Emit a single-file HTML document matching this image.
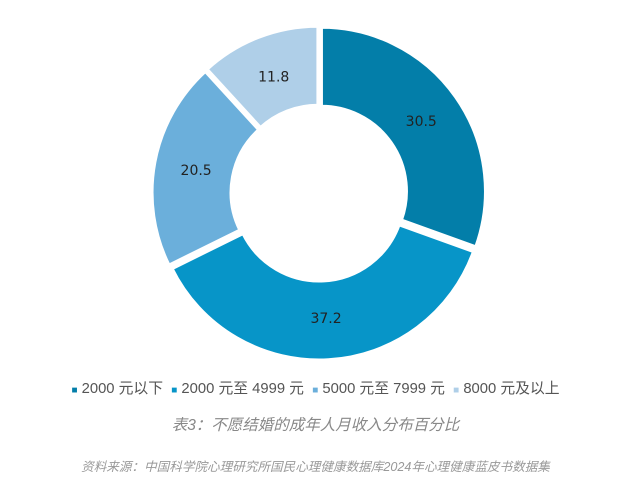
<!DOCTYPE html>
<html><head><meta charset="utf-8"><style>
body{margin:0;background:#fff;width:631px;height:497px;overflow:hidden;font-family:"Liberation Sans","Noto Sans CJK SC",sans-serif}
.t{position:absolute;left:0;width:631px;text-align:center;white-space:nowrap}
</style></head><body>
<svg id="s" width="631" height="370" style="position:absolute;left:0;top:0"></svg>
<div class="t" style="top:377px;font-size:14.8px;color:#555;">
<span style="color:#037ea9;font-size:10px">■</span> 2000 元以下&nbsp;&nbsp;<span style="color:#0795c8;font-size:10px">■</span> 2000 元至 4999 元&nbsp;&nbsp;<span style="color:#6bafdb;font-size:10px">■</span> 5000 元至 7999 元&nbsp;&nbsp;<span style="color:#afcfe8;font-size:10px">■</span> 8000 元及以上</div>
<div class="t" style="top:413px;font-size:15.5px;color:#888;font-style:italic;">表3：不愿结婚的成年人月收入分布百分比</div>
<div class="t" style="top:456px;font-size:12.6px;color:#999;font-style:italic;">资料来源：中国科学院心理研究所国民心理健康数据库2024年心理健康蓝皮书数据集</div>
<script>
var s=document.getElementById('s'),cx=319,cy=193,R=164,r=85;
var d=[[30.5,'#037ea9'],[37.2,'#0795c8'],[20.5,'#6bafdb'],[11.8,'#afcfe8']];
var a=0,h='';
function p(rad,ang,ox,oy){var t=(ang-90)*Math.PI/180;return (cx+ox+rad*Math.cos(t)).toFixed(2)+','+(cy+oy+rad*Math.sin(t)).toFixed(2);}
d.forEach(function(e){var sw=e[0]*3.6,m=a+sw/2,t=(m-90)*Math.PI/180,ox=3*Math.cos(t),oy=3*Math.sin(t),l=sw>180?1:0;
h+='<path d="M'+p(R,a,ox,oy)+' A'+R+','+R+' 0 '+l+' 1 '+p(R,a+sw,ox,oy)+' L'+p(r,a+sw,ox,oy)+' A'+r+','+r+' 0 '+l+' 0 '+p(r,a,ox,oy)+' Z" fill="'+e[1]+'" stroke="#fff" stroke-width="3"/>';
h+='<text x="'+(cx+125*Math.cos(t))+'" y="'+(cy+125*Math.sin(t)+5)+'" text-anchor="middle" font-size="14" fill="#222" font-family="DejaVu Sans,sans-serif">'+e[0]+'</text>';
a+=sw;});
s.innerHTML=h;
</script>
</body></html>
